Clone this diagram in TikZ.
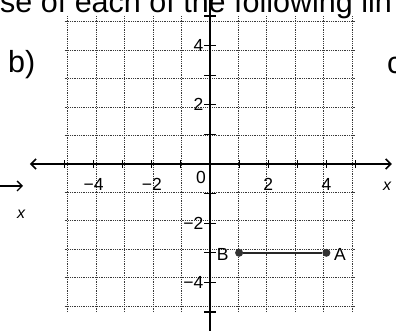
\documentclass[tikz,border=0pt]{standalone}
\usepackage{fontspec}
\setmainfont{Liberation Sans}
\usetikzlibrary{arrows.meta}
\begin{document}
\begin{tikzpicture}[x=1pt, y=-1pt,
    bigtext/.style={font=\fontsize{30.5}{30.5}\selectfont, inner sep=0pt},
    numlabel/.style={font=\fontsize{17.5}{17.5}\selectfont, inner sep=0pt},
    gridline/.style={gray!45!black, line width=0.9pt, dash pattern=on 0.9pt off 0.9pt},
    axisline/.style={black, line width=1.6pt, {Straight Barb[length=5pt,width=10pt]}-{Straight Barb[length=5pt,width=10pt]}},
    tickline/.style={black, line width=1.1pt},
    dot/.style={shape=circle, fill=black!80, minimum size=8pt, inner sep=0pt},
    segment/.style={black!85, line width=1.4pt}]
    \useasboundingbox (0,0) rectangle (396,331);
    \clip (0,0) rectangle (396,331);
    % text around the graph
    \node[bigtext, anchor=base west] (heading) at (0,13) {se of each of the following lin};
    \node[bigtext, anchor=base west] (partb) at (8,73) {b)};
    \node[bigtext, anchor=base west] (partc) at (387,74) {c};
    \coordinate (leftarrowstart) at (-3,186);
    \coordinate (leftarrowend) at (23,186);
    \draw[black, line width=1.4pt, -{Straight Barb[length=5pt,width=10pt]}] (leftarrowstart) -- (leftarrowend);
    \node[numlabel, font=\fontsize{16}{16}\itshape] (leftx) at (21,214) {x};
    \node[numlabel, font=\fontsize{16}{16}\itshape, anchor=west] (rightx) at (383,186) {x};
    % the graph
    \begin{scope}[shift={(210,164)}, x=29.1pt, y=29.6pt]
      \draw[gridline] (-5,-5) grid (5,5);
      \coordinate (xleft) at (-6.19,0);
      \coordinate (xright) at (6.25,0);
      \coordinate (ybottom) at (0,-6);
      \coordinate (ytop) at (0,5.8);
      \draw[axisline] (xleft) -- (xright);
      \draw[axisline] (ybottom) -- (ytop);
      \foreach \t in {-5,...,-1,1,2,...,5} {
        \draw[tickline] (\t,-0.13) -- (\t,0.13);
        \draw[tickline] (-0.2,\t) -- (0.2,\t);
      }
      \node[numlabel, anchor=east] (ylab4) at (-0.22,4) {4};
      \node[numlabel, anchor=east] (ylab2) at (-0.22,2) {2};
      \node[numlabel, anchor=east] (ylabm2) at (-0.22,-2) {−2};
      \node[numlabel, anchor=east] (ylabm4) at (-0.22,-4) {−4};
      \node[numlabel] (xlabm4) at (-4,-0.7) {−4};
      \node[numlabel] (xlabm2) at (-2,-0.7) {−2};
      \node[numlabel] (xlab0) at (-0.31,-0.46) {0};
      \node[numlabel] (xlab2) at (2,-0.7) {2};
      \node[numlabel] (xlab4) at (4,-0.7) {4};
      \node[dot] (B) at (1,-3) {};
      \node[dot] (A) at (4,-3) {};
      \draw[segment] (B) -- (A);
      \node[numlabel, anchor=east] (Blabel) at (0.64,-3.05) {B};
      \node[numlabel, anchor=west] (Alabel) at (4.26,-3.05) {A};
    \end{scope}
\end{tikzpicture}
\end{document}
